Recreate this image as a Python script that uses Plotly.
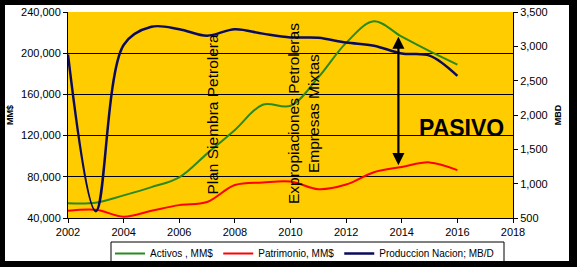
import plotly.graph_objects as go

years = list(range(2002, 2017))
activos = [54300, 54800, 62000, 70000, 79500, 102500, 125500, 150000, 149000,
           176500, 210000, 231000, 216000, 202000, 189000]
patrimonio = [47000, 48000, 41300, 47000, 52500, 55500, 72000, 74500, 75500,
              68000, 72500, 84500, 89500, 94000, 86500]
produccion = [2880, 600, 3020, 3285, 3250, 3155, 3250, 3185, 3130, 3125,
              3055, 3010, 2895, 2865, 2570]

names = ["Activos , MM$", "Patrimonio, MM$", "Produccion Nacion; MB/D"]
colors = ["#2a8a1e", "#ff0000", "#0a0a5e"]

W, H = 577, 267
L, R, T, B = 68, 64, 12, 49
PW, PH = W - L - R, H - T - B

def px(x):
    return (x - L) / PW

def py(y):
    return (H - B - y) / PH

FONT = "Liberation Sans, Arial, sans-serif"

fig = go.Figure()
fig.add_trace(go.Scatter(x=years, y=activos, name=names[0], mode="lines",
                         line=dict(color=colors[0], width=2, shape="spline"), yaxis="y"))
fig.add_trace(go.Scatter(x=years, y=patrimonio, name=names[1], mode="lines",
                         line=dict(color=colors[1], width=2, shape="spline"), yaxis="y"))
fig.add_trace(go.Scatter(x=years, y=produccion, name=names[2], mode="lines",
                         line=dict(color=colors[2], width=2.5, shape="spline"), yaxis="y2"))

shapes = []
# legend box
shapes.append(dict(type="rect", xref="paper", yref="paper",
                   x0=px(111), x1=px(504), y0=py(263), y1=py(242),
                   fillcolor="white", line=dict(color="black", width=1), layer="above"))
# black frame
for (a, b, c, d) in [(0, W, 0, 5), (0, W, 261, H), (0, 5, 0, H), (569, W, 0, H)]:
    shapes.append(dict(type="rect", xref="paper", yref="paper",
                       x0=px(a), x1=px(b), y0=py(d), y1=py(c),
                       fillcolor="black", line=dict(width=0), layer="above"))

annotations = [
    dict(x=2007.2, y=141000, xref="x", yref="y", text="Plan Siembra Petrolera",
         textangle=-90, showarrow=False, font=dict(family=FONT, size=15.5, color="black")),
    dict(x=2010.47, y=141500, xref="x", yref="y",
         text="Expropiaciones Petroleras<br>Empresas Mixtas",
         textangle=-90, showarrow=False, font=dict(family=FONT, size=15.5, color="black")),
    dict(x=2016.16, y=127400, xref="x", yref="y", text="<b>PASIVO</b>",
         showarrow=False, font=dict(family=FONT, size=23, color="black")),
    dict(x=2013.88, y=216000, xref="x", yref="y", ax=2013.88, ay=89800,
         axref="x", ayref="y", text="", showarrow=True, arrowhead=2, startarrowhead=2,
         arrowside="end+start", arrowsize=1.1, startarrowsize=1.1, arrowwidth=2.2,
         arrowcolor="black", standoff=0, startstandoff=0),
]

fig.update_layout(
    width=W, height=H,
    margin=dict(l=L, r=R, t=T, b=B, pad=0, autoexpand=False),
    paper_bgcolor="white", plot_bgcolor="#ffcc00",
    font=dict(family=FONT, size=11, color="black"),
    showlegend=True,
    legend=dict(orientation="h", x=px(110), y=py(239), xanchor="left", yanchor="top",
                bgcolor="rgba(0,0,0,0)", borderwidth=0,
                font=dict(family=FONT, size=10, color="black"),
                itemwidth=30, tracegroupgap=0),
    xaxis=dict(range=[2002, 2018], dtick=2, tick0=2002, showgrid=False, zeroline=False,
               showline=True, linecolor="black", linewidth=1,
               ticks="outside", ticklen=4, tickcolor="black",
               tickfont=dict(family=FONT, size=11, color="black")),
    yaxis=dict(range=[40000, 240000], dtick=40000, tick0=40000, tickformat=",",
               showgrid=True, gridcolor="black", gridwidth=1, zeroline=False,
               showline=True, linecolor="black", linewidth=1,
               ticks="outside", ticklen=4, tickcolor="black",
               tickfont=dict(family=FONT, size=11, color="black"),
               title=dict(text="<b>MM$</b>", standoff=5,
                          font=dict(family=FONT, size=9, color="black"))),
    yaxis2=dict(range=[500, 3500], dtick=500, tick0=500, tickformat=",",
                overlaying="y", side="right", showgrid=False, zeroline=False,
                showline=True, linecolor="black", linewidth=1,
                ticks="outside", ticklen=4, tickcolor="black",
                tickfont=dict(family=FONT, size=11, color="black"),
                title=dict(text="<b>MBD</b>", standoff=7,
                           font=dict(family=FONT, size=9, color="black"))),
    shapes=shapes,
    annotations=annotations,
)

fig.write_html("out.html")
